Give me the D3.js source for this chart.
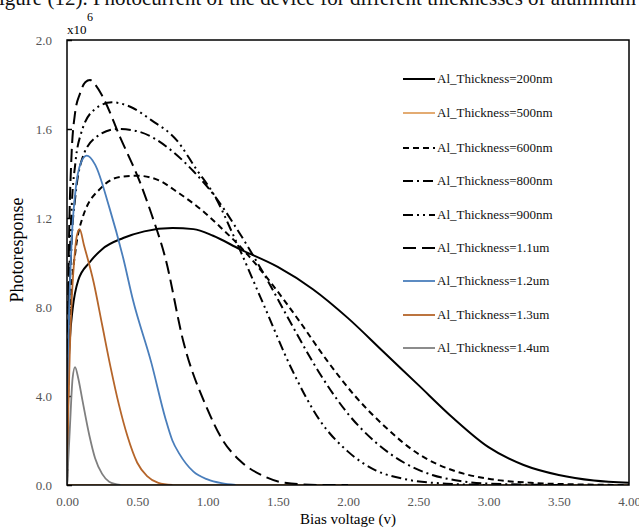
<!DOCTYPE html>
<html>
<head>
<meta charset="utf-8">
<script src="https://cdn.jsdelivr.net/npm/d3@7"></script>
<style>
    body { margin: 0; background: #fff; }
    text { font-family: "Liberation Serif", "Times New Roman", serif; }
</style>
</head>
<body>
<div id="chart"></div>
<script>
"use strict";

// Tick labels as printed on the figure (y in units of 10^6)
let xTicks = [0, 0.5, 1.0, 1.5, 2.0, 2.5, 3.0, 3.5, 4.0];
let yTicks = [0, 0.4, 0.8, 1.2, 1.6, 2.0];
let yTickLabels = ["0.0", "4.0", "8.0", "1.2", "1.6", "2.0"];

let seriesNames = ["Al_Thickness=200nm", "Al_Thickness=500nm", "Al_Thickness=600nm",
    "Al_Thickness=800nm", "Al_Thickness=900nm", "Al_Thickness=1.1um",
    "Al_Thickness=1.2um", "Al_Thickness=1.3um", "Al_Thickness=1.4um"];

// Bias voltage (v) and photoresponse (x10^6)
let v200 = [0, 0.01, 0.02, 0.04, 0.08, 0.16, 0.25, 0.4, 0.55, 0.75, 0.9, 1.04, 1.23, 1.5, 1.75, 2.0, 2.25, 2.5, 2.75, 3.0, 3.25, 3.5, 3.75, 4.0];
let p200 = [0, 0.5, 0.65, 0.79, 0.92, 1.0, 1.06, 1.11, 1.14, 1.155, 1.15, 1.12, 1.06, 0.98, 0.88, 0.75, 0.60, 0.45, 0.30, 0.17, 0.09, 0.045, 0.02, 0.01];

let v500 = [0, 4.0];
let p500 = [0, 0];

let v600 = [0, 0.01, 0.03, 0.06, 0.11, 0.25, 0.38, 0.5, 0.65, 0.8, 0.95, 1.09, 1.25, 1.45, 1.65, 1.85, 2.05, 2.25, 2.5, 2.75, 3.0, 3.3, 3.6, 4.0];
let p600 = [0, 0.5, 0.85, 1.05, 1.2, 1.34, 1.385, 1.39, 1.37, 1.31, 1.24, 1.16, 1.06, 0.91, 0.74, 0.56, 0.40, 0.27, 0.14, 0.065, 0.028, 0.01, 0.003, 0];

let v800 = [0, 0.01, 0.03, 0.06, 0.1, 0.2, 0.36, 0.5, 0.75, 0.9, 1.05, 1.2, 1.4, 1.6, 1.8, 2.0, 2.2, 2.4, 2.6, 2.8, 3.0, 3.5];
let p800 = [0, 0.6, 1.05, 1.3, 1.45, 1.56, 1.60, 1.59, 1.50, 1.41, 1.30, 1.16, 0.95, 0.72, 0.50, 0.32, 0.19, 0.10, 0.045, 0.018, 0.006, 0];

let v900 = [0, 0.01, 0.03, 0.06, 0.1, 0.2, 0.32, 0.45, 0.6, 0.78, 0.92, 1.05, 1.2, 1.4, 1.6, 1.8, 2.0, 2.2, 2.4, 2.7, 3.0];
let p900 = [0, 0.7, 1.2, 1.45, 1.58, 1.69, 1.72, 1.70, 1.64, 1.55, 1.42, 1.30, 1.10, 0.81, 0.52, 0.29, 0.15, 0.065, 0.027, 0.006, 0];

let v1100 = [0, 0.01, 0.03, 0.057, 0.093, 0.13, 0.164, 0.2, 0.25, 0.38, 0.52, 0.6, 0.7, 0.83, 1.0, 1.1, 1.23, 1.4, 1.55, 1.8, 2.0];
let p1100 = [0, 0.9, 1.45, 1.67, 1.76, 1.81, 1.82, 1.80, 1.75, 1.56, 1.36, 1.22, 1.02, 0.64, 0.34, 0.21, 0.11, 0.04, 0.01, 0, 0];

let v1200 = [0, 0.01, 0.03, 0.06, 0.1, 0.14, 0.2, 0.3, 0.4, 0.47, 0.6, 0.7, 0.75, 0.8, 0.9, 1.0, 1.1, 1.2];
let p1200 = [0, 0.6, 1.05, 1.32, 1.45, 1.48, 1.44, 1.25, 1.02, 0.83, 0.55, 0.30, 0.20, 0.14, 0.06, 0.025, 0.008, 0];

let v1300 = [0, 0.01, 0.02, 0.035, 0.05, 0.07, 0.09, 0.12, 0.19, 0.25, 0.31, 0.37, 0.43, 0.5, 0.57, 0.65, 0.75];
let p1300 = [0, 0.35, 0.6, 0.85, 1.0, 1.12, 1.15, 1.08, 0.91, 0.72, 0.53, 0.36, 0.22, 0.10, 0.04, 0.01, 0];

let v1400 = [0, 0.02, 0.04, 0.057, 0.08, 0.11, 0.16, 0.2, 0.25, 0.3, 0.38];
let p1400 = [0, 0.25, 0.48, 0.53, 0.48, 0.38, 0.22, 0.12, 0.05, 0.015, 0];

let xs = [v200, v500, v600, v800, v900, v1100, v1200, v1300, v1400];
let ys = [p200, p500, p600, p800, p900, p1100, p1200, p1300, p1400];

let colours = ["#000000", "#e0a262", "#000000", "#000000", "#000000", "#000000", "#4a7ebb", "#b5652a", "#7f7f7f"];
let dashes = [null, null, "6,4", "10,4,2,4", "10,4,2,4,2,4", "13,6", null, null, null];
let widths = [2, 1.8, 2, 2, 2, 2, 1.8, 1.8, 1.8];

function chart() {
    let width = 639;
    let height = 529;
    let left = 67, right = 629, top = 40, bottom = 485;

    let svg = d3.select("#chart").append("svg")
        .attr("width", width).attr("height", height);

    let xScale = d3.scaleLinear().domain([0, 4]).range([left, right]);
    let yScale = d3.scaleLinear().domain([0, 2]).range([bottom, top]);

    // Caption of the figure, cut off at the top of the picture
    svg.append("text").attr("x", 636).attr("y", 5)
        .style("text-anchor", "end").style("font-size", "21px").attr("fill", "#111")
        .text("Figure (12). Photocurrent of the device for different thicknesses of aluminum");

    svg.append("defs").append("clipPath").attr("id", "clip")
        .append("rect").attr("x", left).attr("y", top)
        .attr("width", right - left).attr("height", bottom - top);

    // Y axis labels and inner ticks
    let yAxis = svg.append("g").attr("transform", `translate(${left},0)`)
        .call(d3.axisLeft(yScale).tickValues(yTicks).tickSizeInner(-5).tickSizeOuter(0)
            .tickPadding(15).tickFormat(function (d, i) {
                return yTickLabels[i];
            }));
    yAxis.select(".domain").remove();
    yAxis.selectAll("line").attr("stroke", "#000").attr("stroke-width", 1.5);
    yAxis.selectAll("text").style("font-family", "Liberation Serif").style("font-size", "13px")
        .attr("fill", "#555");

    // X axis labels
    let xAxis = svg.append("g").attr("transform", `translate(0,${bottom})`)
        .call(d3.axisBottom(xScale).tickValues(xTicks).tickSize(0).tickPadding(12)
            .tickFormat(d3.format(".2f")));
    xAxis.select(".domain").remove();
    xAxis.selectAll("text").style("font-family", "Liberation Serif").style("font-size", "13px")
        .attr("fill", "#555");

    // Curves
    let line = d3.line().curve(d3.curveMonotoneX)
        .x(function (d) { return xScale(d[0]); })
        .y(function (d) { return yScale(d[1]); });

    let plot = svg.append("g").attr("clip-path", "url(#clip)");
    seriesNames.forEach(function (name, i) {
        let pts = xs[i].map(function (x, j) { return [x, ys[i][j]]; });
        plot.append("path").datum(pts).attr("d", line)
            .attr("fill", "none").attr("stroke", colours[i])
            .attr("stroke-width", widths[i])
            .attr("stroke-dasharray", dashes[i]);
    });

    // Frame
    svg.append("rect").attr("x", left).attr("y", top)
        .attr("width", right - left).attr("height", bottom - top)
        .attr("fill", "none").attr("stroke", "#000").attr("stroke-width", 1.5);

    // Multiplier
    svg.append("text").attr("x", 67).attr("y", 34).style("font-size", "13px").text("x10");
    svg.append("text").attr("x", 87).attr("y", 21).style("font-size", "12px").text("6");

    // Axis titles
    svg.append("text").attr("x", (left + right) / 2).attr("y", 524)
        .style("text-anchor", "middle").style("font-size", "15px").text("Bias voltage (v)");
    svg.append("text").attr("transform", "rotate(-90)")
        .attr("x", -250).attr("y", 23)
        .style("text-anchor", "middle").style("font-size", "18px").text("Photoresponse");

    // Legend
    let legY = [79, 113, 148, 181, 215, 248, 281, 315, 348];
    let leg = svg.append("g");
    seriesNames.forEach(function (name, i) {
        leg.append("line").attr("x1", 403).attr("x2", 435)
            .attr("y1", legY[i]).attr("y2", legY[i])
            .attr("stroke", colours[i]).attr("stroke-width", widths[i])
            .attr("stroke-dasharray", dashes[i]);
        leg.append("text").attr("x", 437).attr("y", legY[i] + 4)
            .style("font-size", "13px").attr("fill", "#111").text(name);
    });
}

window.onload = function () {
    chart();
};
</script>
</body>
</html>
